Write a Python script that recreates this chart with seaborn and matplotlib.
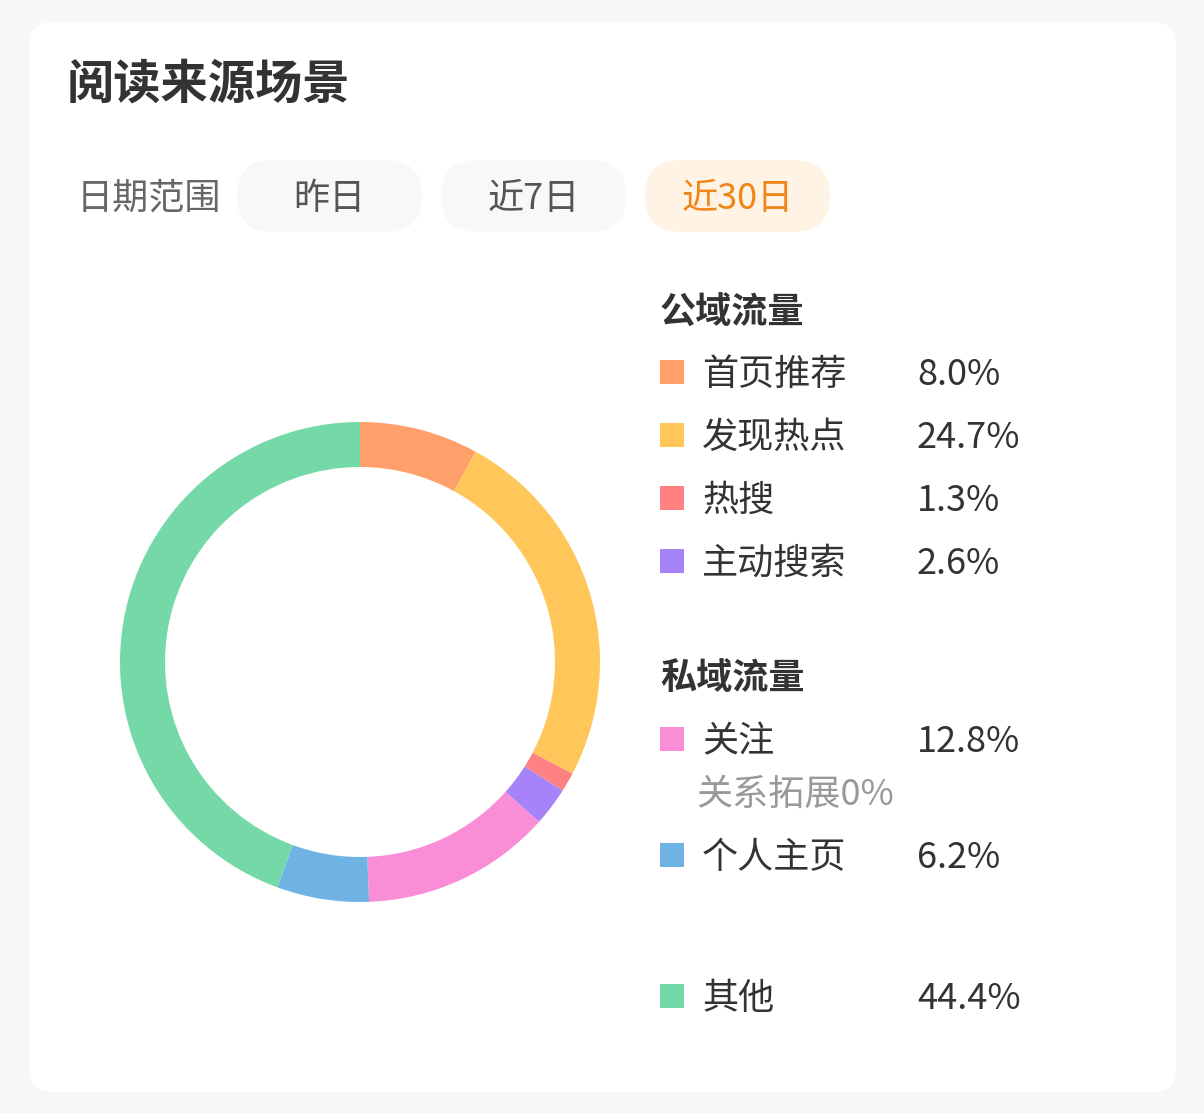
import matplotlib
matplotlib.use("Agg")
import matplotlib.pyplot as plt
import seaborn as sns
from matplotlib.patches import FancyBboxPatch

# data
sources = ["首页推荐", "发现热点", "热搜", "主动搜索", "关注", "个人主页", "其他"]
shares = [8.0, 24.7, 1.3, 2.6, 12.8, 6.2, 44.4]
colors = ["#FFA06A", "#FFC75A", "#FF8282", "#A783F9", "#FA8ED6", "#6FB3E4", "#74D9A6"]
date_tabs = ["昨日", "近7日", "近30日"]
active_tab = "近30日"
extra_note = "关系拓展0%"

sns.set_theme(style="white", palette=colors)
plt.rcParams["font.family"] = ["Noto Sans CJK SC", "DejaVu Sans"]

W, H = 1204, 1113
fig = plt.figure(figsize=(W / 100, H / 100), dpi=100, facecolor="#F7F7F7")

# background axes in pixel coords (y down)
bg = fig.add_axes([0, 0, 1, 1])
bg.set_xlim(0, W)
bg.set_ylim(H, 0)
bg.axis("off")

card = FancyBboxPatch((30, 22), 1146, 1070, boxstyle="round,pad=0,rounding_size=22",
                      fc="white", ec="none")
bg.add_patch(card)

dark = "#333333"
fs = 26
dy = 3  # CJK glyphs sit a bit high with va=center
bg.text(67, 82 + dy, "阅读来源场景", fontsize=34, fontweight="bold", color=dark,
        ha="left", va="center")
bg.text(77, 195 + dy, "日期范围", fontsize=fs, color="#666666", ha="left", va="center")

tab_x = [237, 441, 645]
for x0, lab in zip(tab_x, date_tabs):
    on = lab == active_tab
    pill = FancyBboxPatch((x0, 160), 185, 72, boxstyle="round,pad=0,rounding_size=36",
                          fc="#FFF3E6" if on else "#F8F8F8", ec="none")
    bg.add_patch(pill)
    bg.text(x0 + 92.5, 196 + dy, lab, fontsize=fs, color="#F0861A" if on else "#555555",
            fontweight="medium" if on else "normal", ha="center", va="center")

# legend
def row(y, i):
    bg.add_patch(plt.Rectangle((660, y - 12), 24, 24, fc=colors[i], ec="none"))
    bg.text(702, y + dy, sources[i], fontsize=fs, color=dark, ha="left", va="center")
    bg.text(917, y + dy, f"{shares[i]:.1f}%", fontsize=fs, color=dark, ha="left", va="center")

bg.text(660, 310 + dy, "公域流量", fontsize=fs, fontweight="bold", color=dark, ha="left", va="center")
for y, i in zip([372, 435, 498, 561], [0, 1, 2, 3]):
    row(y, i)
bg.text(660, 676 + dy, "私域流量", fontsize=fs, fontweight="bold", color=dark, ha="left", va="center")
row(739, 4)
bg.text(696, 792 + dy, extra_note, fontsize=fs, color="#999999", ha="left", va="center")
row(855, 5)
row(996, 6)

# donut
ax = fig.add_axes([120 / W, (H - 902) / H, 480 / W, 480 / H])
ax.pie(shares, colors=colors, startangle=90, counterclock=False, radius=1,
       wedgeprops=dict(width=45 / 240, edgecolor="none"))
ax.set_xlim(-1, 1)
ax.set_ylim(-1, 1)
ax.set_aspect("equal")
ax.axis("off")

fig.savefig("out.png", dpi=100, facecolor=fig.get_facecolor())
